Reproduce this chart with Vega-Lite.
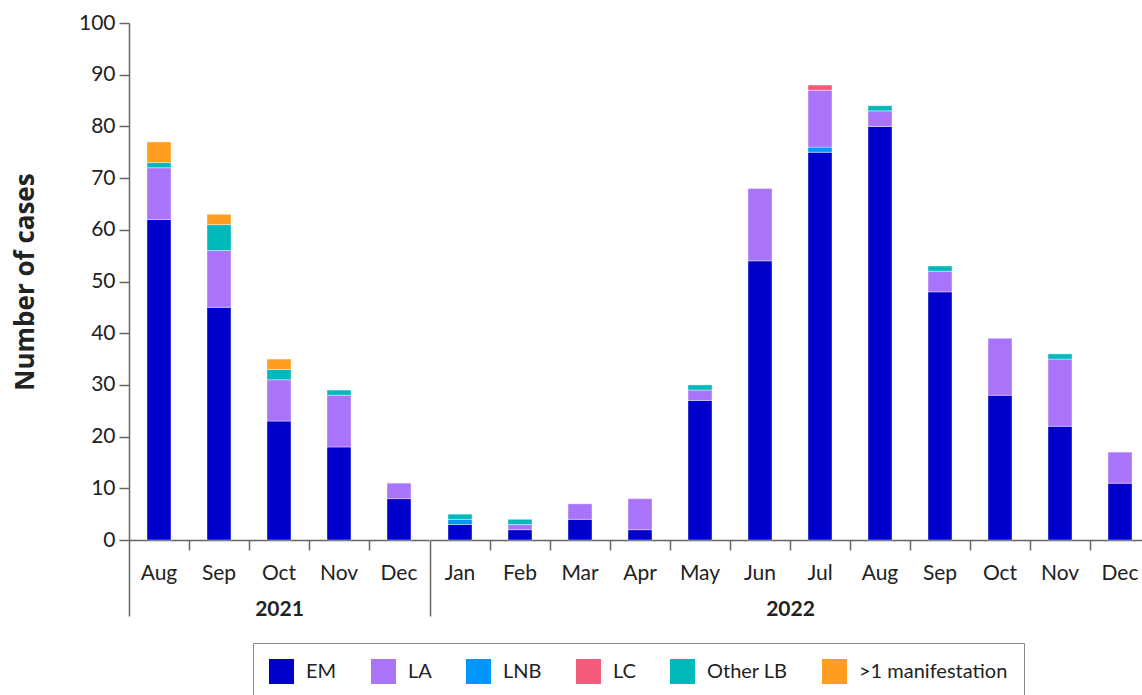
{
  "$schema": "https://vega.github.io/schema/vega-lite/v6.json",
  "padding": {"top": 12, "left": 12, "right": 0, "bottom": 0},
  "background": "white",
  "config": {
    "font": "Lato",
    "view": {"stroke": null},
    "axis": {"labelFont": "Lato", "titleFont": "Lato", "labelColor": "#222", "titleColor": "#222", "domainColor": "#666", "tickColor": "#666", "domainWidth": 1.5, "tickWidth": 1.5, "labelFontSize": 21, "grid": false},
    "legend": {"labelFont": "Lato"}
  },
  "datasets": {
    "cases": [
      {"m": "Aug 2021", "year": 2021, "type": "EM", "n": 62},
      {"m": "Aug 2021", "year": 2021, "type": "LA", "n": 10},
      {"m": "Aug 2021", "year": 2021, "type": "Other LB", "n": 1},
      {"m": "Aug 2021", "year": 2021, "type": ">1 manifestation", "n": 4},
      {"m": "Sep 2021", "year": 2021, "type": "EM", "n": 45},
      {"m": "Sep 2021", "year": 2021, "type": "LA", "n": 11},
      {"m": "Sep 2021", "year": 2021, "type": "Other LB", "n": 5},
      {"m": "Sep 2021", "year": 2021, "type": ">1 manifestation", "n": 2},
      {"m": "Oct 2021", "year": 2021, "type": "EM", "n": 23},
      {"m": "Oct 2021", "year": 2021, "type": "LA", "n": 8},
      {"m": "Oct 2021", "year": 2021, "type": "Other LB", "n": 2},
      {"m": "Oct 2021", "year": 2021, "type": ">1 manifestation", "n": 2},
      {"m": "Nov 2021", "year": 2021, "type": "EM", "n": 18},
      {"m": "Nov 2021", "year": 2021, "type": "LA", "n": 10},
      {"m": "Nov 2021", "year": 2021, "type": "Other LB", "n": 1},
      {"m": "Dec 2021", "year": 2021, "type": "EM", "n": 8},
      {"m": "Dec 2021", "year": 2021, "type": "LA", "n": 3},
      {"m": "Jan 2022", "year": 2022, "type": "EM", "n": 3},
      {"m": "Jan 2022", "year": 2022, "type": "LNB", "n": 1},
      {"m": "Jan 2022", "year": 2022, "type": "Other LB", "n": 1},
      {"m": "Feb 2022", "year": 2022, "type": "EM", "n": 2},
      {"m": "Feb 2022", "year": 2022, "type": "LA", "n": 1},
      {"m": "Feb 2022", "year": 2022, "type": "Other LB", "n": 1},
      {"m": "Mar 2022", "year": 2022, "type": "EM", "n": 4},
      {"m": "Mar 2022", "year": 2022, "type": "LA", "n": 3},
      {"m": "Apr 2022", "year": 2022, "type": "EM", "n": 2},
      {"m": "Apr 2022", "year": 2022, "type": "LA", "n": 6},
      {"m": "May 2022", "year": 2022, "type": "EM", "n": 27},
      {"m": "May 2022", "year": 2022, "type": "LA", "n": 2},
      {"m": "May 2022", "year": 2022, "type": "Other LB", "n": 1},
      {"m": "Jun 2022", "year": 2022, "type": "EM", "n": 54},
      {"m": "Jun 2022", "year": 2022, "type": "LA", "n": 14},
      {"m": "Jul 2022", "year": 2022, "type": "EM", "n": 75},
      {"m": "Jul 2022", "year": 2022, "type": "LNB", "n": 1},
      {"m": "Jul 2022", "year": 2022, "type": "LA", "n": 11},
      {"m": "Jul 2022", "year": 2022, "type": "LC", "n": 1},
      {"m": "Aug 2022", "year": 2022, "type": "EM", "n": 80},
      {"m": "Aug 2022", "year": 2022, "type": "LA", "n": 3},
      {"m": "Aug 2022", "year": 2022, "type": "Other LB", "n": 1},
      {"m": "Sep 2022", "year": 2022, "type": "EM", "n": 48},
      {"m": "Sep 2022", "year": 2022, "type": "LA", "n": 4},
      {"m": "Sep 2022", "year": 2022, "type": "Other LB", "n": 1},
      {"m": "Oct 2022", "year": 2022, "type": "EM", "n": 28},
      {"m": "Oct 2022", "year": 2022, "type": "LA", "n": 11},
      {"m": "Nov 2022", "year": 2022, "type": "EM", "n": 22},
      {"m": "Nov 2022", "year": 2022, "type": "LA", "n": 13},
      {"m": "Nov 2022", "year": 2022, "type": "Other LB", "n": 1},
      {"m": "Dec 2022", "year": 2022, "type": "EM", "n": 11},
      {"m": "Dec 2022", "year": 2022, "type": "LA", "n": 6}
    ],
    "typeOrder": [
      {"type": "EM", "rank": 0},
      {"type": "LNB", "rank": 1},
      {"type": "LA", "rank": 2},
      {"type": "LC", "rank": 3},
      {"type": "Other LB", "rank": 4},
      {"type": ">1 manifestation", "rank": 5}
    ]
  },
  "data": {"name": "cases"},
  "spacing": 0,
  "resolve": {"scale": {"color": "shared"}, "legend": {"color": "shared"}},
  "hconcat": [
    {
      "width": {"step": 60},
      "height": 517,
      "transform": [
        {"filter": "datum.year == 2021"},
        {"lookup": "type", "from": {"data": {"name": "typeOrder"}, "key": "type", "fields": ["rank"]}}
      ],
      "mark": {"type": "bar", "stroke": "white", "strokeWidth": 0.4},
      "encoding": {
        "x": {
          "field": "m", "type": "ordinal",
          "sort": ["Aug 2021", "Sep 2021", "Oct 2021", "Nov 2021", "Dec 2021"],
          "scale": {"paddingInner": 0.6, "paddingOuter": 0.3},
          "axis": {
            "title": "2021", "titleFontSize": 21, "titleFontWeight": "bold", "titleY": 58,
            "labelExpr": "split(datum.value, ' ')[0]", "labelAngle": 0,
            "labelPadding": {"condition": {"test": "datum.value == 'Aug 2021'", "value": -54}, "value": 12},
            "bandPosition": -0.75,
            "tickSize": {"condition": {"test": "datum.value == 'Aug 2021'", "value": 76}, "value": 10}
          }
        },
        "y": {
          "field": "n", "type": "quantitative", "aggregate": "sum", "stack": "zero",
          "scale": {"domain": [0, 100], "nice": false},
          "axis": {
            "title": "Number of cases", "titleFont": "Open Sans", "titleFontSize": 26, "titleFontWeight": "bold", "titlePadding": 40,
            "values": [0, 10, 20, 30, 40, 50, 60, 70, 80, 90, 100], "tickSize": 10, "labelPadding": 4
          }
        },
        "color": {
          "field": "type", "type": "nominal",
          "scale": {
            "domain": ["EM", "LA", "LNB", "LC", "Other LB", ">1 manifestation"],
            "range": ["#0000CC", "#A974FA", "#0096FF", "#F65A7A", "#00B9BB", "#FF9D20"]
          },
          "legend": {
            "title": null, "orient": "none", "direction": "horizontal", "legendX": 124, "legendY": 620,
            "labelFontSize": 20, "labelColor": "#222", "labelOffset": 12, "columnPadding": 34,
            "symbolType": "M-1,-1H1V1H-1Z", "symbolSize": 625, "symbolStrokeWidth": 0,
            "padding": 16, "strokeColor": "#888",
            "encode": {"legend": {"update": {"strokeWidth": {"value": 2}}}}
          }
        },
        "order": {"field": "rank", "type": "quantitative", "sort": "ascending"}
      }
    },
    {
      "width": {"step": 60},
      "height": 517,
      "transform": [
        {"filter": "datum.year == 2022"},
        {"lookup": "type", "from": {"data": {"name": "typeOrder"}, "key": "type", "fields": ["rank"]}}
      ],
      "mark": {"type": "bar", "stroke": "white", "strokeWidth": 0.4},
      "encoding": {
        "x": {
          "field": "m", "type": "ordinal",
          "sort": ["Jan 2022", "Feb 2022", "Mar 2022", "Apr 2022", "May 2022", "Jun 2022", "Jul 2022", "Aug 2022", "Sep 2022", "Oct 2022", "Nov 2022", "Dec 2022"],
          "scale": {"paddingInner": 0.6, "paddingOuter": 0.3},
          "axis": {
            "title": "2022", "titleFontSize": 21, "titleFontWeight": "bold", "titleY": 58,
            "labelExpr": "split(datum.value, ' ')[0]", "labelAngle": 0,
            "labelPadding": {"condition": {"test": "datum.value == 'Jan 2022'", "value": -54}, "value": 12},
            "bandPosition": -0.75,
            "tickSize": {"condition": {"test": "datum.value == 'Jan 2022'", "value": 76}, "value": 10}
          }
        },
        "y": {
          "field": "n", "type": "quantitative", "aggregate": "sum", "stack": "zero",
          "scale": {"domain": [0, 100], "nice": false},
          "axis": null
        },
        "color": {
          "field": "type", "type": "nominal",
          "scale": {
            "domain": ["EM", "LA", "LNB", "LC", "Other LB", ">1 manifestation"],
            "range": ["#0000CC", "#A974FA", "#0096FF", "#F65A7A", "#00B9BB", "#FF9D20"]
          }
        },
        "order": {"field": "rank", "type": "quantitative", "sort": "ascending"}
      }
    }
  ]
}
